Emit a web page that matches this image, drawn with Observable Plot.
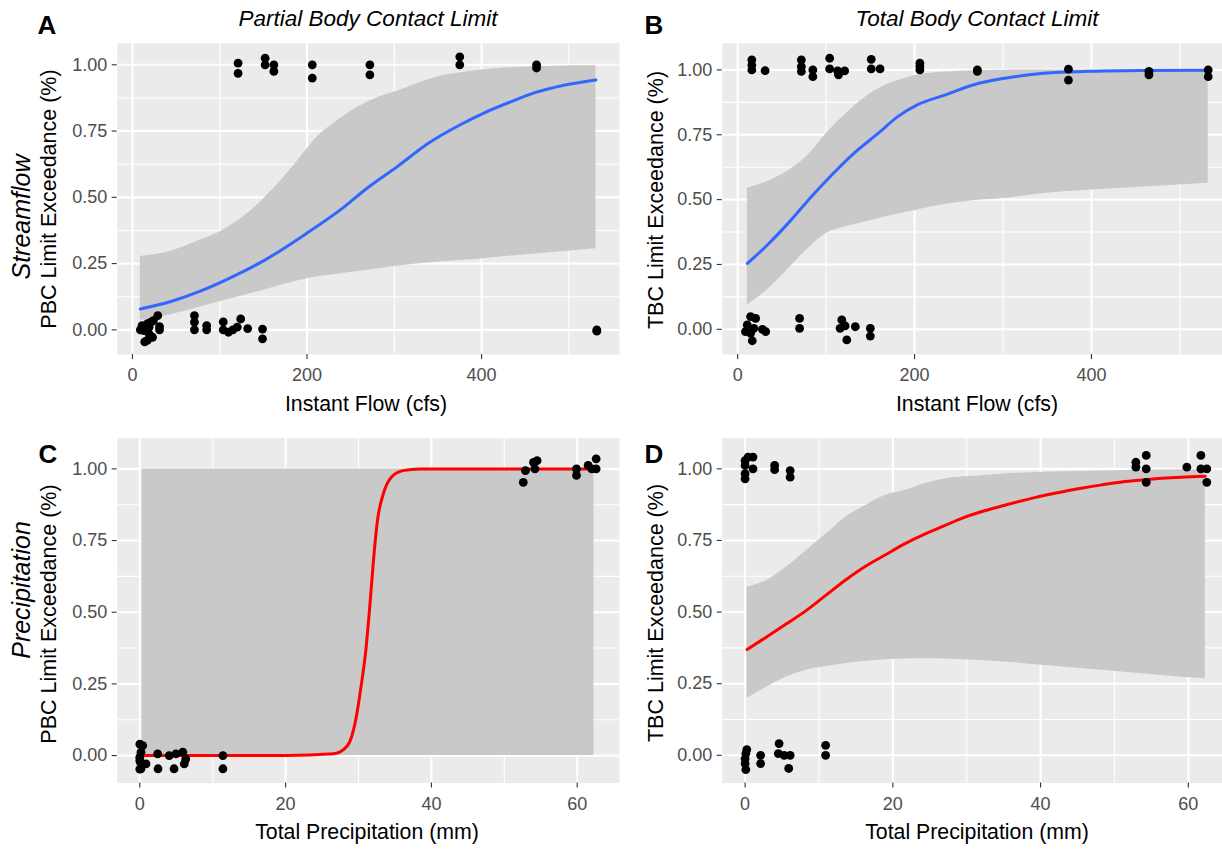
<!DOCTYPE html>
<html><head><meta charset="utf-8">
<script src="https://cdn.jsdelivr.net/npm/d3@7"></script>
<script src="https://cdn.jsdelivr.net/npm/@observablehq/plot@0.6"></script>
<style>
html,body{margin:0;padding:0;background:#fff;overflow:hidden;}
#wrap{position:relative;width:1222px;height:850px;overflow:hidden;font-family:"Liberation Sans",Arial,sans-serif;}
.panel{position:absolute;}
.panel svg{max-width:none !important;display:block;}
.lbl{position:absolute;white-space:nowrap;line-height:1;transform:translate(-50%,-50%);color:#000;}
.rot{transform:translate(-50%,-50%) rotate(-90deg);}
</style></head><body><div id="wrap"></div>
<script>
// ---------- Panel A: Streamflow / PBC ----------
const ptsA_x = [121,121,152,152,162,162,206,206,272,272,375,375,463,463,
  11,17,21,24,29,13,19,17,23,31,31,14,9,19,
  71,71,71,85,85,104,104,110,115,124,120,132,149,149,532,532];
const ptsA_y = [1.006,0.968,1.025,1.0,1.0,0.975,1.0,0.95,1.0,0.962,1.03,1.0,1.0,0.988,
  0.016,0.023,0.029,0.035,0.054,-0.003,-0.015,-0.04,-0.028,0.012,0.0,-0.045,0.0,0.01,
  0.054,0.029,0.0,0.016,0.0,0.03,0.0,-0.009,0.0,0.041,0.01,0.005,0.003,-0.034,0.0,-0.005];
const lineA_x = [9,45,77,122,151,167,199,235,271,303,339,375,402,434,461,493,531];
const lineA_y = [0.079,0.108,0.145,0.212,0.262,0.294,0.363,0.445,0.54,0.615,0.704,0.773,0.817,0.861,0.895,0.922,0.943];
const ribA_x  = [9,41,77,104,122,145,167,190,212,235,258,280,303,348,393,438,485,531];
const ribA_hi = [0.277,0.294,0.338,0.376,0.414,0.477,0.552,0.641,0.729,0.79,0.84,0.875,0.9,0.953,0.978,0.99,0.995,0.996];
const ribA_lo = [0.035,0.055,0.085,0.11,0.125,0.145,0.165,0.185,0.2,0.21,0.22,0.23,0.24,0.255,0.265,0.28,0.293,0.306];

// ---------- Panel B: Streamflow / TBC ----------
const ptsB_x = [16,16,16,31,72,72,72,85,85,104,104,113,121,114,151,151,161,206,206,206,271,271,374,374,465,465,532,532,
  14.6,20.3,10.8,8.8,14.6,18.3,28,31.7,16.5,70,70,117.7,121.5,133,123.4,115.8,150,150];
const ptsB_y = [1.039,1.019,1.0,0.997,1.039,1.013,0.994,1.0,0.974,1.045,1.004,0.996,0.996,0.981,1.041,1.004,1.004,1.026,1.013,1.0,1.0,0.994,1.003,0.961,0.994,0.981,1.0,0.974,
  0.049,0.042,0.017,-0.009,-0.015,0.004,0.0,-0.009,-0.044,0.042,0.004,0.036,0.013,0.01,-0.041,0.004,0.004,-0.026];
const lineB_x = [11,33.5,60,83,105,132,159,181,203,235,266,302,346,400,460,532];
const lineB_y = [0.254,0.325,0.42,0.51,0.59,0.68,0.756,0.82,0.865,0.904,0.942,0.968,0.987,0.995,0.998,0.999];
const ribB_x  = [11,33.5,56,78,100.6,123,145,167.6,190,212,257,302,346,436,532];
const ribB_hi = [0.544,0.569,0.608,0.666,0.756,0.833,0.897,0.942,0.968,0.985,0.996,0.999,1.0,1.0,1.0];
const ribB_lo = [0.094,0.152,0.229,0.306,0.37,0.396,0.415,0.434,0.45,0.467,0.492,0.505,0.524,0.544,0.563];

// ---------- Panel C: Precipitation / PBC ----------
const ptsC_x = [52.6,52.9,54,54.2,54.5,59.9,59.9,61.5,62.6,62.6,62,
  0.4,0.16,0,0.07,0.16,0.85,2.45,2.5,4.04,4.96,4.7,5.9,6.1,6.3,11.4,11.4,0,0,0];
const ptsC_y = [0.953,0.994,1.023,1.0,1.029,0.977,1.0,1.012,1.035,1.0,1.0,
  0.035,0.012,-0.006,-0.023,-0.046,-0.029,0.006,-0.046,0.0,0.006,-0.046,0.012,-0.029,-0.012,0.0,-0.046,0.04,-0.047,-0.017];
const lineC_x = [0.3,5,10,15,20,26.6,28.5,29.6,30.4,31,31.5,32.05,32.6,33.4,34.5,36.1,38.3,45,55,62.3];
const lineC_y = [0,0,0,0,0,0.006,0.035,0.122,0.25,0.366,0.506,0.68,0.82,0.913,0.971,0.994,1,1,1,1];
const ribC_x  = [0.3,62.3];
const ribC_hi = [1,1];
const ribC_lo = [0,0];

// ---------- Panel D: Precipitation / TBC ----------
const ptsD_x = [0,0,0,0,0.4,1.07,1.07,4,4,6.1,6.1,52.9,52.9,54.3,54.3,54.3,59.8,61.7,61.7,62.5,62.5,
  0.23,0.1,0,0,0.1,2.1,2.1,4.6,4.5,5.3,6.1,5.9,10.9,10.9];
const ptsD_y = [1.029,1.012,0.983,0.965,1.041,1.041,1.0,1.012,0.997,0.994,0.971,1.023,1.006,1.047,1.0,0.953,1.006,1.047,1.0,1.0,0.953,
  0.02,0.006,-0.012,-0.029,-0.05,0.0,-0.029,0.041,0.006,0.0,0.0,-0.046,0.035,0.0];
const lineD_x = [0.27,2.9,5.6,8.3,11,13.6,16.3,19,21.6,24.3,27,29.6,32.3,35,37.7,40.3,43,45.7,48.3,51,53.7,56.4,59,62.3];
const lineD_y = [0.369,0.413,0.459,0.506,0.56,0.612,0.66,0.70,0.738,0.772,0.802,0.83,0.853,0.872,0.89,0.906,0.92,0.933,0.944,0.954,0.961,0.967,0.971,0.974];
const ribD_x  = [0.27,2.9,5.6,8.3,11,13.6,16.3,19,21.6,24.3,27,29.6,32.3,35,40.3,45.7,51,56.4,62.3];
const ribD_hi = [0.587,0.61,0.657,0.715,0.773,0.831,0.872,0.907,0.924,0.948,0.965,0.972,0.977,0.982,0.988,0.991,0.994,0.996,0.997];
const ribD_lo = [0.198,0.238,0.273,0.297,0.31,0.32,0.328,0.334,0.336,0.337,0.336,0.334,0.33,0.326,0.314,0.302,0.291,0.279,0.267];

// ---------- Ticks & labels ----------
const flowTicks = [0,200,400];
const flowMinor = [100,300,500];
const precTicks = [0,20,40,60];
const precMinor = [10,30,50];
const yTicks = [0,0.25,0.5,0.75,1];
const yMinor = [0.125,0.375,0.625,0.875];

const zipPts = (xs, ys) => xs.map((x, i) => ({x, y: ys[i]}));
const zipRib = (xs, lo, hi) => xs.map((x, i) => ({x, lo: lo[i], hi: hi[i]}));

function panel(o) {
  return Plot.plot({
    width: o.w, height: o.h,
    marginLeft: 116.7, marginRight: 1, marginTop: o.mt, marginBottom: o.mb,
    x: {domain: o.xDomain},
    y: {domain: o.yDomain},
    style: {fontFamily: '"Liberation Sans", Arial, sans-serif', fontSize: "18px", color: "#4D4D4D", background: "transparent", overflow: "visible", maxWidth: "none"},
    marks: [
      Plot.frame({fill: "#EBEBEB", stroke: null}),
      Plot.gridX(o.xMinor, {stroke: "#fff", strokeOpacity: 1, strokeWidth: 1.1}),
      Plot.gridY(yMinor, {stroke: "#fff", strokeOpacity: 1, strokeWidth: 1.1}),
      Plot.gridX(o.xTicks, {stroke: "#fff", strokeOpacity: 1, strokeWidth: 2.1}),
      Plot.gridY(yTicks, {stroke: "#fff", strokeOpacity: 1, strokeWidth: 2.1}),
      Plot.areaY(o.rib, {x: "x", y1: "lo", y2: "hi", fill: "#C9C9C9", curve: "monotone-x"}),
      Plot.line(o.line, {x: "x", y: "y", stroke: o.color, strokeWidth: 3, curve: "monotone-x"}),
      Plot.dot(o.pts, {x: "x", y: "y", r: 4.4, fill: "#000", stroke: null}),
      Plot.axisX(o.xTicks, {tickSize: 5, tickPadding: 9, stroke: "#333", strokeWidth: 1.1, label: null}),
      Plot.axisY(yTicks, {tickSize: 5, tickPadding: 5, stroke: "#333", strokeWidth: 1.1, tickFormat: d3.format(".2f"), label: null})
    ]
  });
}

const wrap = document.getElementById("wrap");
function place(el, left, top, w, h) {
  const d = document.createElement("div");
  d.className = "panel";
  d.style.left = left + "px"; d.style.top = top + "px";
  d.style.width = w + "px"; d.style.height = h + "px";
  d.appendChild(el); wrap.appendChild(d);
}
const topRow = {h: 420, mt: 42.7, mb: 66};
const botRow = {h: 450, mt: 37.7, mb: 67.4};
const leftCol = {w: 620};
const rightCol = {w: 626.7};

place(panel({...topRow, ...leftCol, xDomain: [-17.5, 558], yDomain: [-0.093, 1.0815], xTicks: flowTicks, xMinor: flowMinor,
  pts: zipPts(ptsA_x, ptsA_y), line: zipPts(lineA_x, lineA_y), rib: zipRib(ribA_x, ribA_lo, ribA_hi), color: "#3366FF"}), 0, 0, 620, 420);
place(panel({...topRow, ...rightCol, xDomain: [-17.5, 558], yDomain: [-0.097, 1.103], xTicks: flowTicks, xMinor: flowMinor,
  pts: zipPts(ptsB_x, ptsB_y), line: zipPts(lineB_x, lineB_y), rib: zipRib(ribB_x, ribB_lo, ribB_hi), color: "#3366FF"}), 605.3, 0, 626.7, 420);
place(panel({...botRow, ...leftCol, xDomain: [-3.1, 65.8], yDomain: [-0.096, 1.107], xTicks: precTicks, xMinor: precMinor,
  pts: zipPts(ptsC_x, ptsC_y), line: zipPts(lineC_x, lineC_y), rib: zipRib(ribC_x, ribC_lo, ribC_hi), color: "#FF0000"}), 0, 400, 620, 450);
place(panel({...botRow, ...rightCol, xDomain: [-3.1, 65.8], yDomain: [-0.097, 1.107], xTicks: precTicks, xMinor: precMinor,
  pts: zipPts(ptsD_x, ptsD_y), line: zipPts(lineD_x, lineD_y), rib: zipRib(ribD_x, ribD_lo, ribD_hi), color: "#FF0000"}), 605.3, 400, 626.7, 450);

// ---------- Text ----------
const texts = [
  {t: "A", x: 47, y: 24.5, s: 26, w: "bold"},
  {t: "B", x: 654, y: 24.5, s: 26, w: "bold"},
  {t: "C", x: 48, y: 454, s: 26, w: "bold"},
  {t: "D", x: 654, y: 454, s: 26, w: "bold"},
  {t: "Partial Body Contact Limit", x: 368, y: 18.5, s: 22.5, i: true},
  {t: "Total Body Contact Limit", x: 977, y: 18.5, s: 22.5, i: true},
  {t: "Instant Flow (cfs)", x: 366, y: 405, s: 21.3},
  {t: "Instant Flow (cfs)", x: 977, y: 405, s: 21.3},
  {t: "Total Precipitation (mm)", x: 367, y: 833, s: 21.3},
  {t: "Total Precipitation (mm)", x: 977, y: 833, s: 21.3},
  {t: "PBC Limit Exceedance (%)", x: 50, y: 199, s: 21.5, r: true},
  {t: "TBC Limit Exceedance (%)", x: 657, y: 200, s: 21.5, r: true},
  {t: "PBC Limit Exceedance (%)", x: 50, y: 614, s: 21.5, r: true},
  {t: "TBC Limit Exceedance (%)", x: 657, y: 613, s: 21.5, r: true},
  {t: "Streamflow", x: 21, y: 217, s: 25, r: true, i: true},
  {t: "Precipitation", x: 21, y: 590, s: 25, r: true, i: true}
];
for (const d of texts) {
  const e = document.createElement("div");
  e.className = "lbl" + (d.r ? " rot" : "");
  e.textContent = d.t;
  e.style.left = d.x + "px"; e.style.top = d.y + "px";
  e.style.fontSize = d.s + "px";
  if (d.w) e.style.fontWeight = d.w;
  if (d.i) e.style.fontStyle = "italic";
  wrap.appendChild(e);
}
</script></body></html>
